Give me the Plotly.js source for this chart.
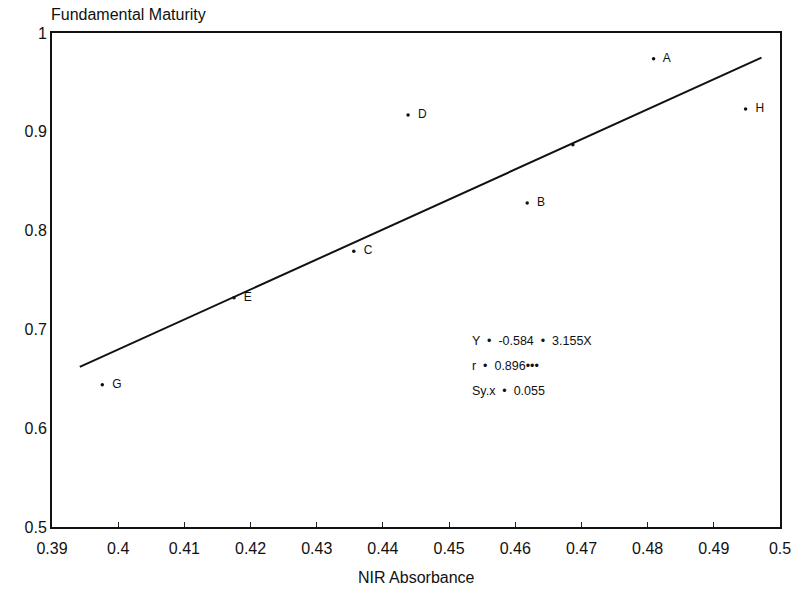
<!DOCTYPE html>
<html>
<head>
<meta charset="utf-8">
<script src="https://cdn.plot.ly/plotly-3.0.1.min.js"></script>
<style>html,body{margin:0;padding:0;background:#fff;}#chart{width:794px;height:592px;}</style>
</head>
<body>
<div id="chart"></div>
<script>
// Samples
const sampleLabels = ["G", "E", "C", "D", "B", "", "A", "H"];
const nirAbsorbance = [0.3976, 0.4175, 0.4356, 0.4438, 0.4618, 0.4687, 0.4809, 0.4948];
const maturity = [0.644, 0.732, 0.779, 0.917, 0.828, 0.887, 0.974, 0.923];

// Regression line end points
const fitX = [0.3942, 0.4972];
const fitY = [0.662, 0.975];

// Ticks
const xTickVals = [0.39, 0.40, 0.41, 0.42, 0.43, 0.44, 0.45, 0.46, 0.47, 0.48, 0.49, 0.50];
const xTickText = ["0.39", "0.4", "0.41", "0.42", "0.43", "0.44", "0.45", "0.46", "0.47", "0.48", "0.49", "0.5"];
const yTickVals = [0.5, 0.6, 0.7, 0.8, 0.9, 1.0];
const yTickText = ["0.5", "0.6", "0.7", "0.8", "0.9", "1"];

const statLines = ["Y  •  -0.584  •  3.155X", "r  •  0.896•••", "Sy.x  •  0.055"];

const font = "Liberation Sans, Arial, sans-serif";

const traces = [
  {
    x: fitX, y: fitY, mode: "lines", type: "scatter",
    line: {color: "#111", width: 2}, hoverinfo: "skip", showlegend: false
  },
  {
    x: nirAbsorbance, y: maturity, mode: "markers+text", type: "scatter",
    text: sampleLabels.map(s => s ? "  " + s : ""), textposition: "middle right",
    textfont: {family: font, size: 12, color: "#111"},
    marker: {color: "#111", size: 3.5}, showlegend: false
  }
];

const layout = {
  width: 794, height: 592,
  margin: {l: 52, r: 14, t: 33, b: 65},
  paper_bgcolor: "#fff", plot_bgcolor: "#fff",
  font: {family: font, color: "#111"},
  showlegend: false,
  xaxis: {
    range: [0.39, 0.50], tickvals: xTickVals, ticktext: xTickText,
    ticks: "inside", ticklen: 5, tickcolor: "#222", tickwidth: 1,
    ticklabelstandoff: 6,
    showgrid: false, zeroline: false,
    showline: true, linecolor: "#111", linewidth: 2, mirror: true,
    tickfont: {size: 16, family: font, color: "#111"}
  },
  yaxis: {
    range: [0.5, 1.0], tickvals: yTickVals, ticktext: yTickText,
    ticks: "", showgrid: false, zeroline: false,
    showline: true, linecolor: "#111", linewidth: 2, mirror: true,
    tickfont: {size: 16, family: font, color: "#111"}
  },
  annotations: [
    {
      text: "Fundamental Maturity", xref: "paper", yref: "paper",
      x: 0, y: 1, xanchor: "left", yanchor: "bottom", yshift: 8, xshift: -3, showarrow: false,
      font: {size: 16, family: font, color: "#111"}
    },
    {
      text: "NIR Absorbance", xref: "paper", yref: "paper",
      x: 0.5, y: 0, xanchor: "center", yanchor: "middle", yshift: -50, showarrow: false,
      font: {size: 16, family: font, color: "#111"}
    }
  ].concat(statLines.map((t, i) => ({
    text: t, xref: "x", yref: "y", x: 0.4531, y: 0.688 - i * 0.0253,
    xanchor: "left", yanchor: "middle", showarrow: false,
    font: {size: 12.5, family: font, color: "#111"}
  })))
};

Plotly.newPlot("chart", traces, layout, {displayModeBar: false, staticPlot: true});
</script>
</body>
</html>
